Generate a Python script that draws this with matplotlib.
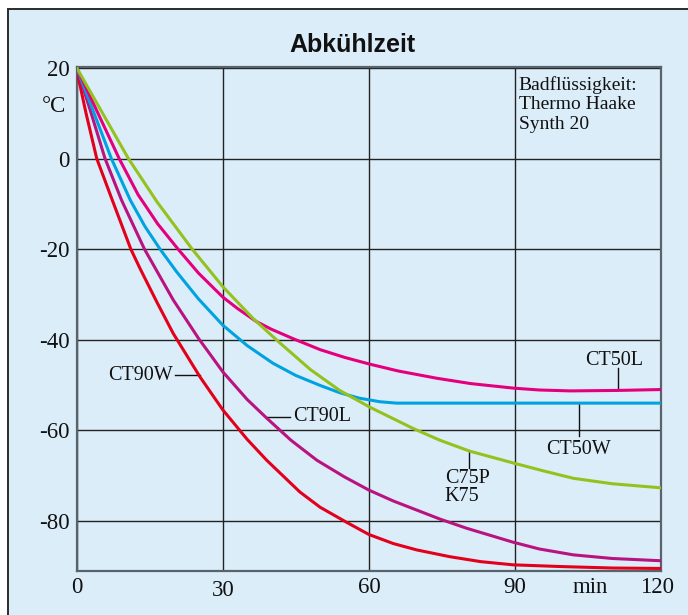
import matplotlib
matplotlib.use('Agg')
import matplotlib.pyplot as plt
import matplotlib.patches as mpatches
from matplotlib.transforms import offset_copy

# ---------------------------------------------
#               DATA
# ---------------------------------------------

x_ticks = [0, 30, 60, 90, 120]
x_tick_labels = ['0', '30', '60', '90', '120']
y_ticks = [20, 0, -20, -40, -60, -80]
y_tick_labels = ['20', '0', '-20', '-40', '-60', '-80']

# CT90W (red)
ct90w_t = [0, 1.9, 4.1, 7.3, 11.1, 13, 16.5, 19.8, 25.3, 30, 35, 39, 45.8, 50, 55.4,
           60, 65, 69.8, 76.6, 83, 89.6, 100, 110, 120]
ct90w_v = [19.5, 10, 0, -9.2, -20, -24.3, -31.8, -38.6, -48.2, -55.5, -62, -66.6, -73.6, -77,
           -80.3, -83, -85, -86.4, -87.9, -89, -89.7, -90.1, -90.4, -90.5]

# CT90L (purple)
ct90l_t = [0, 2.9, 5.8, 9.2, 13.9, 19.8, 25, 30, 35, 39, 44, 49.3, 55, 60, 65,
           69.8, 74.6, 80, 89.6, 95, 102, 110, 120]
ct90l_v = [20, 10.2, 0, -9.2, -20, -31.2, -39.7, -47.1, -53.2, -57.3, -62.2, -66.6,
           -70.3, -73.2, -75.6, -77.6, -79.6, -81.6, -84.7, -86.2, -87.5, -88.3, -88.8]

# CT50W (cyan)
ct50w_t = [0, 7.1, 11, 14, 17.1, 20.5, 25, 30, 35, 40.3, 45, 50, 54, 58,
           62.3, 65.7, 80, 100, 120]
ct50w_v = [20, 0, -9.2, -15, -20, -25, -31, -36.8, -41.3, -45.2, -47.9, -50.1,
           -51.7, -52.9, -53.7, -54, -54, -54, -54]

# CT50L (pink)
ct50l_t = [0, 8.7, 12.6, 16.6, 20.8, 25, 30, 33, 36.9, 40, 44.5, 50, 55, 60.2,
           66, 73.9, 81, 89.8, 95, 101.3, 110.9, 120]
ct50l_v = [20, 0, -8.0, -14.4, -20, -25.3, -30.6, -33.1, -36, -37.7, -39.8, -42.2,
           -43.9, -45.4, -46.9, -48.5, -49.7, -50.7, -51.1, -51.3, -51.2, -51]

# C75P / K75 (green)
c75p_t = [0, 10.6, 16.5, 23.7, 30, 36.2, 41.7, 48, 54, 60.2, 69.1, 74.6, 80.7,
          89.6, 96, 102, 110, 120]
c75p_v = [20, 0, -9.6, -20, -28.3, -35.3, -40.7, -46.6, -51.2, -54.9, -59.6, -62.2,
          -64.6, -67.2, -69.0, -70.6, -71.8, -72.7]

# ---------------------------------------------
#               CREATE GRAPH
# ---------------------------------------------

bg = '#dcedfa'
serif = ['Liberation Serif', 'DejaVu Serif']

fig = plt.figure(figsize=(6.88, 6.15), dpi=100, facecolor='white')

# light blue panel with a dark frame (cut off at right / bottom)
panel = mpatches.Rectangle((8 / 688, -0.05), 1.2, 0.9854 + 0.05, transform=fig.transFigure,
                           facecolor=bg, edgecolor='#2b2b2b', linewidth=1.4, zorder=-10)
fig.patches.append(panel)

ax = fig.add_axes([0.1116, 0.0720, 0.9608 - 0.1116, 0.891 - 0.0720])
ax.set_facecolor(bg)

ax.plot(ct90w_t, ct90w_v, color='#e2001a', lw=2.2, solid_capstyle='round', zorder=3)
ax.plot(ct90l_t, ct90l_v, color='#b8137f', lw=2.2, solid_capstyle='round', zorder=3)
ax.plot(ct50w_t, ct50w_v, color='#00a3e0', lw=2.2, solid_capstyle='round', zorder=3)
ax.plot(ct50l_t, ct50l_v, color='#e4007c', lw=2.2, solid_capstyle='round', zorder=3)
ax.plot(c75p_t, c75p_v, color='#95c11f', lw=2.2, solid_capstyle='round', zorder=3)

ax.set_xlim(0, 120)
ax.set_ylim(-91, 20.2)
ax.set_xticks(x_ticks)
ax.set_xticklabels(x_tick_labels, fontfamily=serif, fontsize=16.5)
ax.set_yticks(y_ticks)
ax.set_yticklabels(y_tick_labels, fontfamily=serif, fontsize=16.5)
ax.tick_params(axis='both', length=0, colors='#111111')
ax.tick_params(axis='x', pad=4.5)
ax.tick_params(axis='y', pad=5)
ax.grid(True, color='#222222', linewidth=1.0, zorder=1)
ax.set_axisbelow(True)
for side in ['left', 'bottom', 'top', 'right']:
    ax.spines[side].set_color('#59636c')
    ax.spines[side].set_linewidth(1.6)

# the "30" sits a bit lower, "120" a bit to the left
xl = ax.get_xticklabels()
xl[1].set_transform(offset_copy(xl[1].get_transform(), fig=fig, x=0, y=-3, units='dots'))
xl[4].set_transform(offset_copy(xl[4].get_transform(), fig=fig, x=-4, y=0, units='dots'))

# axis unit labels
ax.text(105.4, -91, 'min', transform=offset_copy(ax.transData, fig=fig, x=0, y=-6, units='dots'),
        fontfamily=serif, fontsize=16.5, ha='center', va='top', color='#111111')
fig.text(66 / 688, 1 - 106.7 / 615, '°C', fontfamily=serif, fontsize=16.5,
         ha='right', va='center', color='#111111')

# title
fig.text(0.512, 0.927, 'Abkühlzeit', fontfamily=['Liberation Sans', 'DejaVu Sans'],
         fontweight='bold', fontsize=18, ha='center', va='center', color='#111111')

# note
ax.text(90.8, 18.3, 'Badflüssigkeit:\nThermo Haake\nSynth 20', fontfamily=serif,
        fontsize=14, ha='left', va='top', linespacing=1.2, color='#111111')

# curve labels with leader lines
lab = dict(fontfamily=serif, fontsize=14.5, color='#111111')
ax.plot([20.2, 25.3], [-47.8, -47.8], color='#111111', lw=1.0, zorder=2)
ax.text(19.8, -47.8, 'CT90W', ha='right', va='center', **lab)

ax.plot([39.0, 43.8], [-57.0, -57.0], color='#111111', lw=1.0, zorder=2)
ax.text(44.4, -57.0, 'CT90L', ha='left', va='center', **lab)

ax.plot([111.1, 111.1], [-46.3, -51.2], color='#111111', lw=1.0, zorder=2)
ax.text(110.3, -44.6, 'CT50L', ha='center', va='center', **lab)

ax.plot([103.1, 103.1], [-54.3, -61.3], color='#111111', lw=1.0, zorder=2)
ax.text(103.0, -64.3, 'CT50W', ha='center', va='center', **lab)

ax.plot([80.5, 80.5], [-64.7, -68.4], color='#111111', lw=1.0, zorder=2)
ax.text(75.6, -68.6, 'C75P\nK75', ha='left', va='top', linespacing=0.9, **lab)

plt.savefig('out.png', dpi=100, facecolor=fig.get_facecolor())
